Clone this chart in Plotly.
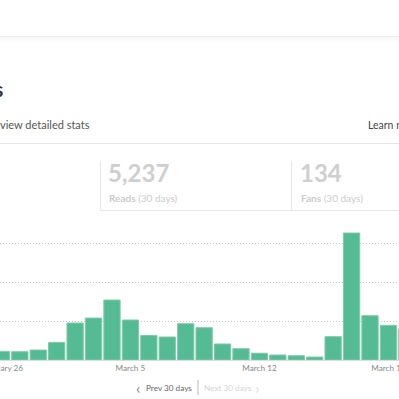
import plotly.graph_objects as go
import pandas as pd

# ---------------- data ----------------
dates = pd.date_range("2018-02-26", "2018-03-20", freq="D").strftime("%Y-%m-%d").tolist()
views = [110, 106, 128, 226, 474, 538, 769, 513, 315, 295, 465, 414, 205, 145,
         87, 64, 55, 38, 299, 1628, 568, 444, 397]
tick_dates = ["2018-02-26", "2018-03-05", "2018-03-12", "2018-03-19"]
tick_labels = ["February 26", "March 5", "March 12", "March 19"]
reads_total = "5,237"
fans_total = "134"

# ---------------- layout helpers ----------------
W, H = 399, 399
FONT = "Lato"


def px(x):
    return x / W


def py(y):
    return 1 - y / H


BASE_Y = 360.0      # pixel row of the bar baseline
TOP_Y = 222.0       # pixel row of the top of the plot area
GRID_PX = 39.0      # pixel spacing of grid lines
GRID_STEP = 500
DAY_PX = 18.43
FIRST_CENTER = 1.4

y_top_val = (BASE_Y - TOP_Y) / GRID_PX * GRID_STEP
d0 = pd.Timestamp(dates[0])
x_start = d0 + pd.Timedelta(days=(0 - FIRST_CENTER) / DAY_PX)
x_end = d0 + pd.Timedelta(days=(W - FIRST_CENTER) / DAY_PX)

fig = go.Figure()
fig.add_trace(go.Bar(
    x=dates, y=views,
    marker=dict(color="#55bb94", line=dict(color="#7fcbab", width=1)),
    hoverinfo="skip",
))

shapes = []
# header shadow
shapes.append(dict(type="rect", xref="paper", yref="paper", x0=0, x1=1,
                   y0=py(37), y1=py(36), fillcolor="#efefef", line_width=0, layer="below"))
for i, a in enumerate([0.035, 0.025, 0.018, 0.012, 0.008, 0.004]):
    shapes.append(dict(type="rect", xref="paper", yref="paper", x0=0, x1=1,
                       y0=py(38 + i), y1=py(37 + i),
                       fillcolor=f"rgba(0,0,0,{a})", line_width=0, layer="below"))
# rule under "view detailed stats"
shapes.append(dict(type="line", xref="paper", yref="paper", x0=0, x1=1,
                   y0=py(143.5), y1=py(143.5), line=dict(color="#e6e6e6", width=1)))
# stats box
box_col = "#e8e8e8"
shapes.append(dict(type="line", xref="paper", yref="paper", x0=px(100.5), x1=px(100.5),
                   y0=py(161), y1=py(210), line=dict(color=box_col, width=1)))
shapes.append(dict(type="line", xref="paper", yref="paper", x0=px(291.5), x1=px(291.5),
                   y0=py(161), y1=py(210), line=dict(color=box_col, width=1)))
shapes.append(dict(type="line", xref="paper", yref="paper", x0=px(100.5), x1=1,
                   y0=py(210.5), y1=py(210.5), line=dict(color=box_col, width=1)))
# pager divider
shapes.append(dict(type="line", xref="paper", yref="paper", x0=px(198), x1=px(198),
                   y0=py(380), y1=py(395), line=dict(color="#bbbbbb", width=1)))

ann = []


def text(x, y, t, size, color, anchor="left", weight=None):
    t2 = f"<b>{t}</b>" if weight == "bold" else t
    ann.append(dict(x=px(x), y=py(y), xref="paper", yref="paper", text=t2,
                    showarrow=False, xanchor=anchor, yanchor="middle", borderpad=0,
                    font=dict(family=FONT, size=size, color=color)))


text(3.5, 89, "Stats", 20, "#333333", anchor="right", weight="bold")
text(-1, 125, "view detailed stats", 11, "#555555")
text(367, 125, "Learn more", 10.5, "#444444")
text(107, 173, reads_total, 24, "#cfcfcf", weight="bold")
text(108, 198, "<b>Reads</b> (30 days)", 10, "#cccccc")
text(299, 173, fans_total, 24, "#cfcfcf", weight="bold")
text(300, 198, "<b>Fans</b> (30 days)", 10, "#cccccc")
text(138.5, 387, "‹", 16, "#888888", anchor="center")
text(145, 388, "Prev 30 days", 8.2, "#666666")
text(203, 388, "Next 30 days", 8.2, "#d6d6d6")
text(257.5, 387, "›", 16, "#dddddd", anchor="center")

fig.update_layout(
    width=W, height=H, autosize=False,
    margin=dict(l=0, r=0, t=0, b=0, pad=0, autoexpand=False),
    paper_bgcolor="#ffffff", plot_bgcolor="rgba(0,0,0,0)",
    showlegend=False, bargap=0.116,
    shapes=shapes, annotations=ann,
    xaxis=dict(type="date", range=[x_start, x_end], tickvals=tick_dates, ticktext=tick_labels,
               showgrid=False, zeroline=False, showline=True, linecolor="#dddddd", linewidth=1,
               ticks="", ticklabeloverflow="allow", automargin=False,
               tickfont=dict(family=FONT, size=8.2, color="#888888"), fixedrange=True),
    yaxis=dict(domain=[py(BASE_Y), py(TOP_Y)], range=[0, y_top_val], dtick=GRID_STEP,
               showgrid=True, gridcolor="#c8c8c8", griddash="1px,2px", gridwidth=1, automargin=False,
               zeroline=False, showticklabels=False, ticks="", fixedrange=True),
)

fig.write_html("out.html", config={"displayModeBar": False},
               post_script="document.body.style.margin='0';document.body.style.overflow='hidden';")
